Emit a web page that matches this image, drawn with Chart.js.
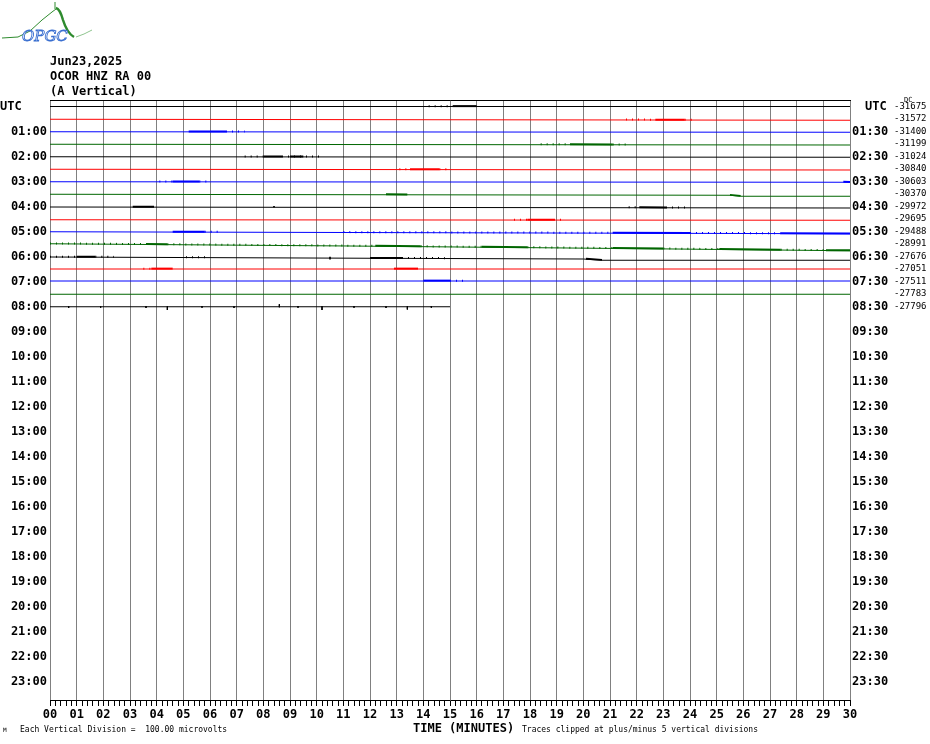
<!DOCTYPE html>
<html>
<head>
<meta charset="utf-8">
<title>OCOR HNZ RA 00 - Jun23,2025</title>
<script src="https://cdn.jsdelivr.net/npm/chart.js@4.4.0/dist/chart.umd.min.js"></script>
<style>
  body { margin: 0; background: #fff; }
  #wrap { position: relative; width: 930px; height: 744px; }
  .t { position: absolute; font-family: 'DejaVu Sans Mono', monospace; color: #000; white-space: pre; line-height: 1; }
  .b { font-weight: bold; font-size: 12px; }
  .s { font-size: 8px; }
</style>
</head>
<body>
<div id="wrap">
  <canvas id="heli"></canvas>

  <svg style="position:absolute;left:0;top:0" width="100" height="46">
    <path d="M2 38 L18 37 L30 31 L42 20 L52 12 L56 9" stroke="#2e8b2e" stroke-width="1" fill="none"/>
    <path d="M55 2 L55 9" stroke="#2e8b2e" stroke-width="1"/>
    <path d="M56 8 Q60 9 63 20 Q67 33 74 37" stroke="#2e8b2e" stroke-width="2.5" fill="none"/>
    <path d="M76 37 L84 34 L92 30" stroke="#8fc48f" stroke-width="1" fill="none"/>
    <text x="22" y="41" font-family="DejaVu Serif" font-style="italic" font-size="15" fill="#fff" stroke="#3a6fd0" stroke-width="0.9">OPGC</text>
  </svg>

  <div class="t b" style="left:50px;top:55px">Jun23,2025</div>
  <div class="t b" style="left:50px;top:70px">OCOR HNZ RA 00</div>
  <div class="t b" style="left:50px;top:85px">(A Vertical)</div>

  <div class="t b" style="left:0px;top:100px">UTC</div>
  <div class="t b" style="left:865px;top:100px">UTC</div>
  <div class="t" style="left:904px;top:97px;font-size:7px">DC</div>

  <div class="t s" style="left:3px;top:727px;font-size:6px">M</div>
  <div class="t s" style="left:20px;top:726px">Each Vertical Division =  100.00 microvolts</div>
  <div class="t b" style="left:413px;top:722px">TIME (MINUTES)</div>
  <div class="t s" style="left:522px;top:726px">Traces clipped at plus/minus 5 vertical divisions</div>
</div>

<script>
  // tick labels
  const minuteLabels = ['00', '01', '02', '03', '04', '05', '06', '07', '08', '09', '10',
    '11', '12', '13', '14', '15', '16', '17', '18', '19', '20',
    '21', '22', '23', '24', '25', '26', '27', '28', '29', '30'];
  const hourLabels = ['01:00', '02:00', '03:00', '04:00', '05:00', '06:00', '07:00', '08:00',
    '09:00', '10:00', '11:00', '12:00', '13:00', '14:00', '15:00', '16:00',
    '17:00', '18:00', '19:00', '20:00', '21:00', '22:00', '23:00'];
  const halfHourLabels = ['01:30', '02:30', '03:30', '04:30', '05:30', '06:30', '07:30', '08:30',
    '09:30', '10:30', '11:30', '12:30', '13:30', '14:30', '15:30', '16:30',
    '17:30', '18:30', '19:30', '20:30', '21:30', '22:30', '23:30'];
  const dcValues = ['-31675', '-31572', '-31400', '-31199', '-31024', '-30840', '-30603', '-30370',
    '-29972', '-29695', '-29488', '-28991', '-27676', '-27051', '-27511', '-27783', '-27796'];

  // baseline of each 30 min trace: [minute, offset in rows]
  const rowDrift = [
    [[0, 0], [30, 0]],
    [[0, 0.02], [30, 0.1]],
    [[0, 0.02], [30, 0.06]],
    [[0, 0.02], [30, 0.08]],
    [[0, 0.02], [30, 0.06]],
    [[0, 0.02], [30, 0.08]],
    [[0, 0.02], [30, 0.06]],
    [[0, 0.02], [25.5, 0.1], [25.9, 0.18], [30, 0.18]],
    [[0, 0.04], [30, 0.12]],
    [[0, 0.06], [30, 0.1]],
    [[0, 0.02], [30, 0.18]],
    [[0, -0.02], [11.25, 0.16], [22.5, 0.38], [30, 0.54]],
    [[0, 0.04], [12, 0.14], [20, 0.2], [20.7, 0.3], [30, 0.3]],
    [[0, 0], [30, 0]],
    [[0, -0.04], [30, -0.04]],
    [[0, 0.02], [30, 0.02]],
    [[0, 0.02], [15, 0.02]]
  ];

  // noisy stretches: [row, from minute, to minute]
  const denseBursts = [
    [0, 15.1, 16.0], [1, 22.7, 23.8], [2, 5.2, 6.6], [3, 19.5, 21.1],
    [4, 8.0, 8.7], [4, 9.0, 9.5], [5, 13.5, 14.6], [6, 4.6, 5.6], [6, 29.75, 30],
    [7, 12.6, 13.4], [7, 25.5, 25.9], [8, 3.1, 3.9], [8, 22.1, 23.1],
    [9, 17.9, 18.9], [10, 4.6, 5.8], [10, 21.1, 24.0], [10, 27.4, 30],
    [11, 3.6, 4.4], [11, 12.2, 13.9], [11, 16.2, 17.9], [11, 21.1, 23.0],
    [11, 25.1, 27.4], [11, 29.1, 30], [12, 1.0, 1.7], [12, 12.0, 13.2],
    [12, 20.1, 20.7], [13, 3.8, 4.6], [13, 12.9, 13.8], [14, 14.0, 15.0]
  ];
  const sparseBursts = [
    [0, 14.2, 15.1], [1, 21.6, 22.7], [1, 23.8, 24.1], [2, 6.6, 7.3],
    [3, 18.4, 19.5], [3, 21.1, 21.6], [4, 7.3, 8.0], [4, 8.7, 10.2],
    [5, 13.1, 13.5], [5, 14.6, 14.9], [6, 4.1, 4.6], [6, 5.6, 5.9],
    [8, 21.7, 22.1], [8, 23.1, 24.0], [9, 17.4, 17.9], [9, 18.9, 19.2],
    [10, 5.8, 6.45], [10, 11.0, 21.1], [10, 24.0, 27.4],
    [11, 0, 3.6], [11, 4.4, 12.2], [11, 13.9, 16.2], [11, 17.9, 21.1],
    [11, 23.0, 25.1], [11, 27.4, 29.1], [12, 0, 1.0], [12, 1.7, 2.4],
    [12, 5.1, 6.0], [12, 13.2, 15.0], [13, 3.5, 3.8], [14, 15.0, 15.6]
  ];
  // single spikes: [row, minute, up, down] in rows
  const spikes = [
    [16, 0.7, 0.04, 0.1], [16, 1.9, 0.04, 0.08], [16, 3.6, 0.06, 0.1],
    [16, 4.4, 0.04, 0.26], [16, 5.7, 0.06, 0.08], [16, 6.9, 0.04, 0.1],
    [16, 8.6, 0.2, 0.04], [16, 9.3, 0.06, 0.08], [16, 10.2, 0.04, 0.26],
    [16, 11.4, 0.06, 0.08], [16, 12.6, 0.04, 0.1], [16, 13.4, 0.04, 0.22],
    [16, 14.3, 0.06, 0.08], [12, 10.5, 0.1, 0.1], [8, 8.4, 0.1, 0.0]
  ];

  const traceColors = ['#000000', '#ff0000', '#0000ff', '#006600'];

  const driftAt = (row, m) => {
    const pts = rowDrift[row];
    for (let k = 1; k < pts.length; k++) {
      if (m <= pts[k][0]) {
        const [m0, o0] = pts[k - 1];
        const [m1, o1] = pts[k];
        return o0 + (o1 - o0) * (m - m0) / (m1 - m0);
      }
    }
    return pts[pts.length - 1][1];
  };

  const datasets = [];
  rowDrift.forEach((pts, i) => {
    datasets.push({
      data: pts.map(([m, o]) => ({ x: m, y: i + o })),
      borderColor: traceColors[i % 4],
      borderWidth: 1
    });
  });
  denseBursts.forEach(([r, a, b]) => {
    datasets.push({
      data: [{ x: a, y: r + driftAt(r, a) - 0.03 }, { x: b, y: r + driftAt(r, b) - 0.03 }],
      borderColor: traceColors[r % 4],
      borderWidth: 2
    });
  });
  sparseBursts.forEach(([r, a, b]) => {
    datasets.push({
      data: [{ x: a, y: r + driftAt(r, a) - 0.03 }, { x: b, y: r + driftAt(r, b) - 0.03 }],
      borderColor: traceColors[r % 4],
      borderWidth: 2,
      borderDash: [1, 5]
    });
  });
  spikes.forEach(([r, m, up, down]) => {
    const base = r + driftAt(r, m);
    datasets.push({
      data: [{ x: m, y: base - up }, { x: m, y: base + down }],
      borderColor: traceColors[r % 4],
      borderWidth: 1
    });
  });

  const rowsScale = {
    type: 'linear',
    reverse: true,
    min: -0.52,
    max: 47.48
  };
  const isWhole = (v) => Math.abs(v - Math.round(v)) < 1e-6;

  Chart.defaults.font.family = "'DejaVu Sans Mono', monospace";
  Chart.defaults.color = '#000';

  new Chart(document.getElementById('heli'), {
    type: 'scatter',
    data: { datasets },
    options: {
      responsive: true,
      maintainAspectRatio: false,
      animation: false,
      showLine: true,
      elements: { point: { radius: 0, hoverRadius: 0 }, line: { tension: 0 } },
      layout: { padding: { top: 100, left: 0, right: 0, bottom: 0 } },
      plugins: { legend: { display: false }, tooltip: { enabled: false } },
      events: [],
      scales: {
        x: {
          type: 'linear',
          position: 'bottom',
          min: 0,
          max: 30,
          afterFit: (s) => { s.height = 44; },
          ticks: {
            stepSize: 0.2,
            autoSkip: false,
            maxRotation: 0,
            padding: 2,
            font: { size: 12, weight: 'bold' },
            callback: (v) => isWhole(v) ? minuteLabels[Math.round(v)] : ''
          },
          grid: {
            color: (ctx) => isWhole(ctx.tick.value) ? '#808080' : 'rgba(0,0,0,0)',
            tickColor: '#000',
            tickLength: 6,
            lineWidth: 1
          },
          border: { display: true, color: '#000' }
        },
        x2: {
          type: 'linear',
          position: 'top',
          min: 0,
          max: 30,
          afterFit: (s) => { s.height = 0; },
          ticks: { display: false },
          grid: { drawOnChartArea: false, drawTicks: false },
          border: { display: true, color: '#000' }
        },
        y: {
          ...rowsScale,
          position: 'left',
          afterFit: (s) => { s.width = 50; },
          afterBuildTicks: (s) => { s.ticks = hourLabels.map((_, i) => ({ value: (i + 1) * 2 })); },
          ticks: {
            autoSkip: false,
            padding: 3,
            font: { size: 12, weight: 'bold' },
            callback: (v, i) => hourLabels[i]
          },
          grid: { display: false, drawTicks: false },
          border: { display: false }
        },
        y2: {
          ...rowsScale,
          position: 'right',
          weight: 0,
          afterFit: (s) => { s.width = 43; },
          afterBuildTicks: (s) => { s.ticks = halfHourLabels.map((_, i) => ({ value: (i + 1) * 2 })); },
          ticks: {
            autoSkip: false,
            padding: 2,
            font: { size: 12, weight: 'bold' },
            callback: (v, i) => halfHourLabels[i]
          },
          grid: { display: false, drawTicks: false },
          border: { display: false }
        },
        y3: {
          ...rowsScale,
          position: 'right',
          weight: 1,
          afterFit: (s) => { s.width = 37; },
          afterBuildTicks: (s) => { s.ticks = dcValues.map((_, i) => ({ value: i })); },
          ticks: {
            autoSkip: false,
            padding: 1,
            font: { size: 9 },
            callback: (v, i) => dcValues[i]
          },
          grid: { display: false, drawTicks: false },
          border: { display: false }
        }
      }
    }
  });
</script>
</body>
</html>
